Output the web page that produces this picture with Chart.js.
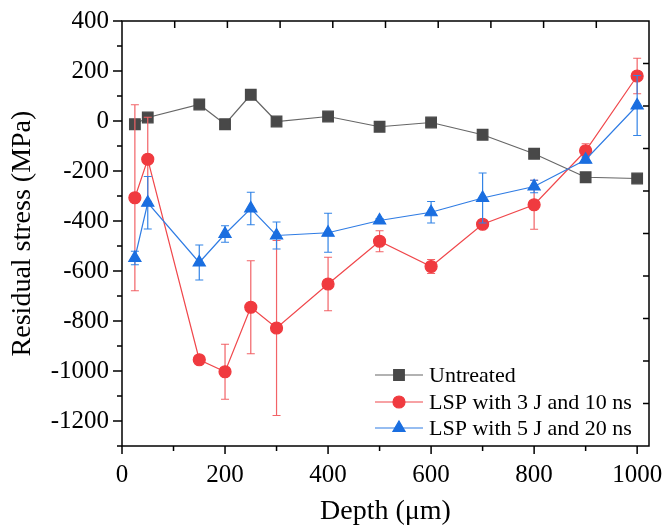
<!DOCTYPE html>
<html lang="en">
<head>
<meta charset="UTF-8">
<title>Residual stress vs depth</title>
<script src="https://cdn.jsdelivr.net/npm/chart.js"></script>
<style>
  body { margin: 0; background: #fff; }
  .grafico { width: 665px; height: 529px; }
</style>
</head>
<body>
<div class="grafico"><canvas id="myChart"></canvas></div>
<script>
  // depth in um
  const depth = [25, 50, 150, 200, 250, 300, 400, 500, 600, 700, 800, 900, 1000];
  const untreated = [-13, 14, 66, -13, 105, -2, 18, -23, -6, -55, -131, -225, -230];
  const lsp3J = [-307, -153, -955, -1003, -745, -828, -652, -481, -582, -413, -335, -119, 180];
  const lsp3JErr = [372, 168, 10, 110, 186, 350, 107, 42, 28, 15, 98, 28, 71];
  const lsp5J = [-548, -327, -566, -452, -350, -458, -447, -398, -365, -308, -262, -155, 62];
  const lsp5JErr = [27, 105, 70, 33, 65, 54, 78, 8, 43, 100, 25, 12, 120];
  const seriesNames = ['Untreated', 'LSP with 3 J and 10 ns', 'LSP with 5 J and 20 ns'];

  const fonte = 'Liberation Serif';

  function pontos(valores) {
    return depth.map((d, i) => ({ x: d, y: valores[i] }));
  }

  // error bars drawn under each dataset
  const errorBars = {
    id: 'errorBars',
    beforeDatasetDraw(chart, args) {
      const ds = chart.data.datasets[args.index];
      if (!ds.errors) return;
      const ctx = chart.ctx;
      const x = chart.scales.x, y = chart.scales.y;
      ctx.save();
      ctx.strokeStyle = ds.errorColor;
      ctx.lineWidth = 1.2;
      ds.data.forEach((p, i) => {
        const e = ds.errors[i];
        const px = x.getPixelForValue(p.x);
        const top = y.getPixelForValue(p.y + e);
        const bot = y.getPixelForValue(p.y - e);
        ctx.beginPath();
        ctx.moveTo(px, top); ctx.lineTo(px, bot);
        ctx.moveTo(px - 4, top); ctx.lineTo(px + 4, top);
        ctx.moveTo(px - 4, bot); ctx.lineTo(px + 4, bot);
        ctx.stroke();
      });
      ctx.restore();
    }
  };

  // box frame + tick marks
  const moldura = {
    id: 'moldura',
    afterDraw(chart) {
      const ctx = chart.ctx;
      const a = chart.chartArea;
      const x = chart.scales.x, y = chart.scales.y;
      ctx.save();
      ctx.strokeStyle = '#000';
      ctx.lineWidth = 1.5;
      ctx.strokeRect(a.left, a.top, a.right - a.left, a.bottom - a.top);
      ctx.beginPath();
      x.ticks.forEach(t => {
        const px = x.getPixelForValue(t.value);
        const len = t.value % 200 === 0 ? 8 : 5;
        ctx.moveTo(px, a.bottom); ctx.lineTo(px, a.bottom + len);
      });
      y.ticks.forEach(t => {
        const py = y.getPixelForValue(t.value);
        const len = t.value % 200 === 0 ? 9 : 5;
        ctx.moveTo(a.left, py); ctx.lineTo(a.left - len, py);
      });
      for (let i = 1; i < 10; i++) {
        const px = a.left + (a.right - a.left) * i / 10;
        ctx.moveTo(px, a.top); ctx.lineTo(px, a.top + 7);
        const py = a.top + (a.bottom - a.top) * i / 10;
        ctx.moveTo(a.right, py); ctx.lineTo(a.right - 6, py);
      }
      ctx.stroke();
      ctx.restore();
    }
  };

  // legend inside the plot, bottom right
  const legenda = {
    id: 'legenda',
    afterDraw(chart) {
      const ctx = chart.ctx;
      const a = chart.chartArea;
      const linhas = [-71, -44, -18];
      chart.data.datasets.forEach((ds, i) => {
        const yy = a.bottom + linhas[i];
        ctx.save();
        ctx.strokeStyle = ds.borderColor;
        ctx.lineWidth = ds.borderWidth;
        ctx.beginPath();
        ctx.moveTo(a.right - 274, yy); ctx.lineTo(a.right - 226, yy);
        ctx.stroke();
        ctx.fillStyle = ds.pointBackgroundColor;
        ctx.strokeStyle = ds.pointBackgroundColor;
        Chart.helpers.drawPoint(ctx, { pointStyle: ds.pointStyle, radius: ds.pointRadius, borderWidth: 1, rotation: 0 }, a.right - 250, yy);
        ctx.fillStyle = '#000';
        ctx.font = '22px "' + fonte + '"';
        ctx.textBaseline = 'middle';
        ctx.fillText(seriesNames[i], a.right - 220, yy + 1);
        ctx.restore();
      });
    }
  };

  const ctx1 = document.getElementById('myChart').getContext('2d');
  const chart1 = new Chart(ctx1, {
    type: 'line',
    data: {
      datasets: [
        {
          label: seriesNames[0],
          data: pontos(untreated),
          borderColor: '#666666',
          borderWidth: 1.2,
          pointStyle: 'rect',
          pointRadius: 7.5,
          pointBackgroundColor: '#484848',
          pointBorderColor: '#484848',
          order: 3
        },
        {
          label: seriesNames[1],
          data: pontos(lsp3J),
          errors: lsp3JErr,
          errorColor: '#f26367',
          borderColor: '#f0474b',
          borderWidth: 1.2,
          pointStyle: 'circle',
          pointRadius: 6,
          pointBackgroundColor: '#f03a3f',
          pointBorderColor: '#f03a3f',
          order: 2
        },
        {
          label: seriesNames[2],
          data: pontos(lsp5J),
          errors: lsp5JErr,
          errorColor: '#3384e6',
          borderColor: '#2f7ce4',
          borderWidth: 1.2,
          pointStyle: 'triangle',
          pointRadius: 7,
          pointBackgroundColor: '#1a6ee0',
          pointBorderColor: '#1a6ee0',
          order: 1
        }
      ]
    },
    options: {
      responsive: true,
      maintainAspectRatio: false,
      animation: false,
      layout: { padding: { top: 21, right: 16, left: 0, bottom: 0 } },
      plugins: { legend: { display: false }, tooltip: { enabled: false } },
      scales: {
        x: {
          type: 'linear',
          min: 0,
          max: 1023,
          afterFit: s => { s.height = 83; s.paddingLeft = 0; s.paddingRight = 0; },
          afterBuildTicks: s => { s.ticks = s.ticks.filter(t => t.value % 100 === 0); },
          grid: { display: false, drawTicks: false },
          border: { display: false },
          ticks: {
            stepSize: 100,
            includeBounds: false,
            padding: 14,
            maxRotation: 0,
            autoSkip: false,
            color: '#000',
            font: { family: fonte, size: 25 },
            callback: v => (v % 200 === 0 ? v : '')
          },
          title: {
            display: true,
            text: 'Depth (μm)',
            color: '#000',
            font: { family: fonte, size: 28 },
            padding: { top: 0, bottom: 1 }
          }
        },
        y: {
          min: -1300,
          max: 400,
          afterFit: s => { s.width = 122; s.paddingTop = 0; s.paddingBottom = 0; },
          afterBuildTicks: s => { s.ticks = s.ticks.filter(t => t.value % 100 === 0); },
          grid: { display: false, drawTicks: false },
          border: { display: false },
          ticks: {
            stepSize: 100,
            includeBounds: false,
            padding: 13,
            autoSkip: false,
            color: '#000',
            font: { family: fonte, size: 25 },
            callback: v => (v % 200 === 0 ? v : '')
          },
          title: {
            display: true,
            text: 'Residual stress (MPa)',
            color: '#000',
            font: { family: fonte, size: 28 },
            padding: { top: 6, bottom: 0 }
          }
        }
      }
    },
    plugins: [errorBars, moldura, legenda]
  });
</script>
</body>
</html>
